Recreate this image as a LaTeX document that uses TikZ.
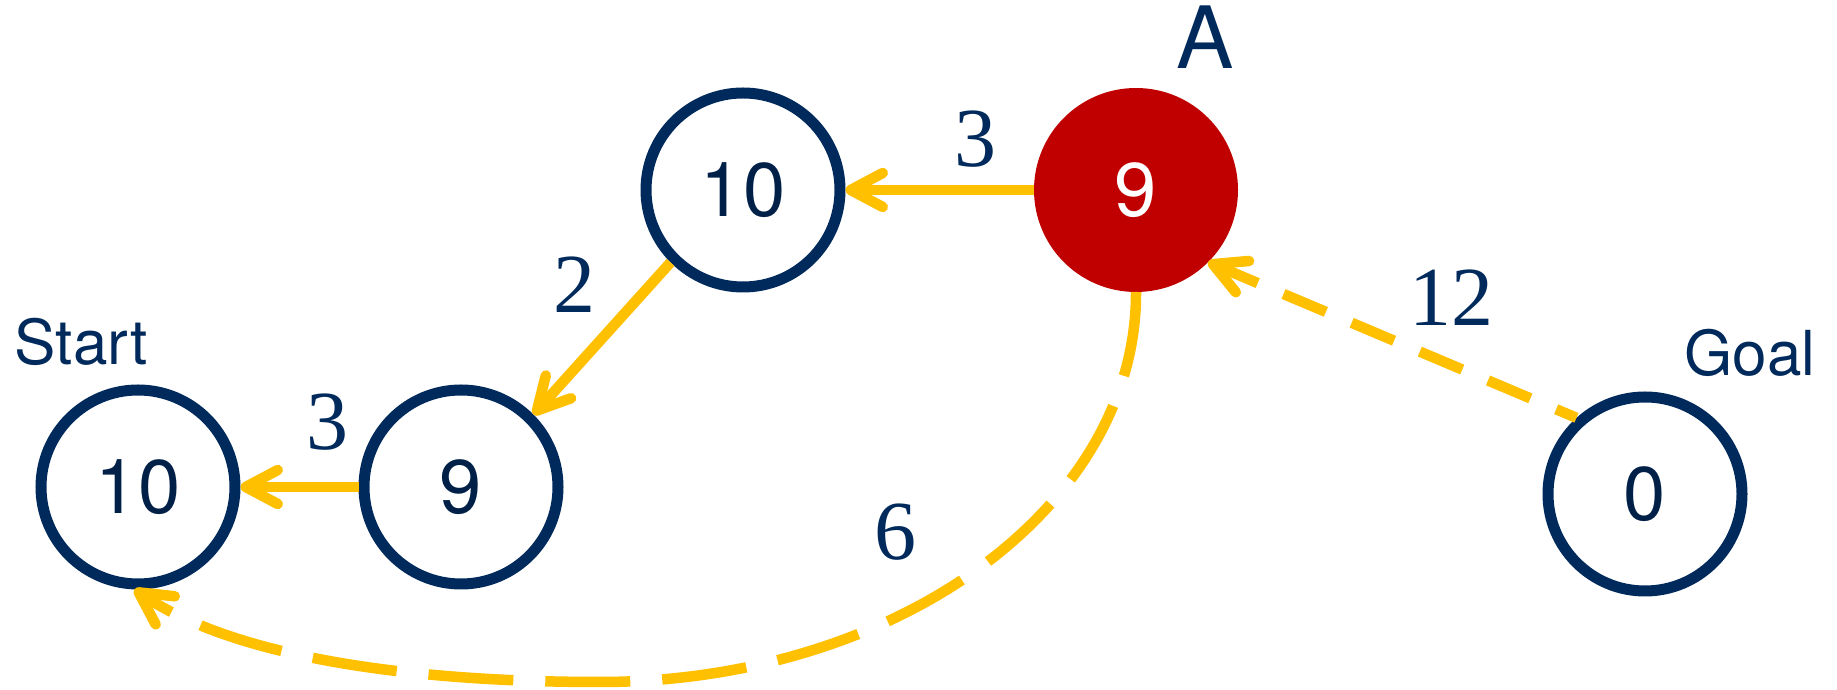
\documentclass[tikz,border=0pt]{standalone}
\usepackage{fontspec}
\setmainfont{TeX Gyre Heros}
\newfontfamily\arialfont{TeX Gyre Heros}
\newfontfamily\costfont{Liberation Serif}
\usetikzlibrary{arrows.meta}
\definecolor{navy}{RGB}{0,42,92}
\definecolor{navytext}{RGB}{0,32,72}
\definecolor{gold}{RGB}{255,192,0}
\definecolor{crimson}{RGB}{192,0,0}
\begin{document}
\begin{tikzpicture}[x=0.5pt,y=0.5pt,
  cnode/.style={circle, draw=navy, line width=5.5pt, fill=white, minimum size=97pt,
    inner sep=0pt, outer sep=2.75pt, text=navytext, font=\arialfont\fontsize{38}{40}\selectfont},
  hnode/.style={circle, fill=crimson, minimum size=102pt, inner sep=0pt,
    outer sep=0pt, text=white, font=\arialfont\fontsize{38}{40}\selectfont},
  tag/.style={text=navy, font=\arialfont\fontsize{31}{33}\selectfont, anchor=base, inner sep=0pt},
  bigtag/.style={text=navy, font=\arialfont\fontsize{43}{45}\selectfont, anchor=base, inner sep=0pt},
  cost/.style={text=navy, font=\costfont\fontsize{42}{44}\selectfont, anchor=base, inner sep=0pt},
  link/.style={draw=gold, line width=5.25pt, -{Straight Barb[length=16pt,width=17pt,round]}},
  shortdash/.style={dash pattern=on 23pt off 14pt, dash phase=12pt},
  longdash/.style={dash pattern=on 42.5pt off 16pt}
]
\useasboundingbox (0,0) rectangle (1837,690);
\fill[white] (0,0) rectangle (1837,690);

% nodes
\node[cnode] (S) at (138,203) {10};
\node[cnode] (N) at (461,203) {9};
\node[cnode] (T) at (743,500) {10};
\node[hnode] (A) at (1136,500) {9};
\node[cnode] (G) at (1645,196) {0};

% node captions
\node[tag] (lstart) at (81,325) {Start};
\node[tag] (lgoal) at (1750,314) {Goal};
\node[bigtag] (la) at (1205,621) {A};

% edges
\draw[link] (A.west) -- (T.east);
\draw[link] (T.225) -- (N.45);
\draw[link] (N.west) -- (S.east);
\draw[link, shortdash] (G.132) -- (A.-45);
\draw[link, longdash] (A.south) .. controls (1137,183) and (897,8) .. (600,8)
  .. controls (400,8) and (231,35) .. (S.-92);

% edge costs
\node[cost] (c1) at (975,523) {3};
\node[cost] (c2) at (574,377) {2};
\node[cost] (c3) at (327,240) {3};
\node[cost] (c4) at (1451,364) {12};
\node[cost] (c5) at (895,130) {6};
\end{tikzpicture}
\end{document}
